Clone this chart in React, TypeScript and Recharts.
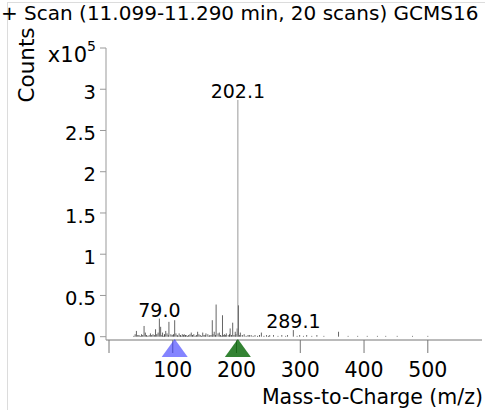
import { ComposedChart, ReferenceDot, ReferenceLine, Scatter, XAxis, YAxis } from "recharts";

const CHART_WIDTH = 485;
const CHART_HEIGHT = 410;
const FONT = "'DejaVu Sans', Verdana, sans-serif";

// main peaks: m/z and abundance (x10^5 counts)
const peakMz = [
  41, 43, 45, 51, 55, 57, 63, 65, 69, 73, 77, 79, 81, 84, 89, 91, 94, 97, 103, 105,
  110, 115, 118, 121, 127, 129, 133, 139, 141, 147, 152, 155, 158, 162, 165, 168, 171,
  173, 178, 181, 184, 187, 190, 194, 198, 201, 202.1, 203, 206, 212, 218, 223, 229,
  239, 247, 252, 258, 265, 271, 277, 280, 289.1, 295, 299, 305, 310, 318, 326, 337,
  360, 375, 390, 405, 421, 434, 452, 476, 500,
];
const peakCounts = [
  0.03, 0.07, 0.02, 0.03, 0.13, 0.05, 0.02, 0.04, 0.03, 0.09, 0.05, 0.22, 0.12, 0.05,
  0.07, 0.04, 0.18, 0.03, 0.2, 0.04, 0.04, 0.03, 0.03, 0.02, 0.03, 0.05, 0.03, 0.06,
  0.03, 0.05, 0.04, 0.03, 0.02, 0.2, 0.06, 0.39, 0.04, 0.05, 0.26, 0.03, 0.04, 0.02,
  0.1, 0.17, 0.06, 0.1, 2.87, 0.38, 0.05, 0.03, 0.02, 0.02, 0.02, 0.05, 0.02, 0.02,
  0.02, 0.01, 0.02, 0.01, 0.02, 0.08, 0.01, 0.02, 0.01, 0.02, 0.01, 0.02, 0.01, 0.06,
  0.01, 0.01, 0.01, 0.01, 0.01, 0.01, 0.01, 0.01,
];

// low-level noise peaks along the baseline
const minorMz = [
  39, 47, 49, 53, 59, 61, 67, 71, 75, 83, 86, 87, 93, 99, 101, 107, 108, 112, 113, 117,
  120, 123, 125, 131, 135, 137, 143, 145, 149, 151, 157, 160, 163, 167, 175, 177, 180,
  183, 189, 192, 196, 199, 205, 209, 215, 220, 226, 233, 236, 243, 250,
];
const minorCounts = [
  0.01, 0.02, 0.01, 0.02, 0.02, 0.01, 0.02, 0.02, 0.03, 0.02, 0.01, 0.03, 0.02, 0.02,
  0.03, 0.02, 0.01, 0.02, 0.01, 0.02, 0.02, 0.01, 0.02, 0.02, 0.01, 0.02, 0.02, 0.01,
  0.02, 0.02, 0.01, 0.02, 0.03, 0.02, 0.02, 0.01, 0.02, 0.02, 0.03, 0.02, 0.02, 0.03,
  0.02, 0.02, 0.01, 0.02, 0.01, 0.01, 0.02, 0.01, 0.01,
];

const labeledMz = [79.0, 202.1, 289.1];
const markerMz = [103, 202.1];
const markerColors = ["rgba(50, 50, 255, 0.6)", "rgba(0, 100, 0, 0.8)"];

const xTicks = [0, 100, 200, 300, 400, 500];
const yTicks = [0, 0.5, 1, 1.5, 2, 2.5, 3, 3.5];
const X_DOMAIN: [number, number] = [0, 585];
const Y_DOMAIN: [number, number] = [-0.04, 3.5];

const peaks = peakMz.map((mz, i) => ({ mz, counts: peakCounts[i] }));
const minor = minorMz.map((mz, i) => ({ mz, counts: minorCounts[i] }));

function YTick(props: any) {
  const { x, y, payload } = props;
  if (payload.value === 3.5) {
    return (
      <g fontFamily={FONT} fill="#000">
        <text x={x - 9} y={y + 14} textAnchor="end" fontSize={21}>
          x10
        </text>
        <text x={x - 9} y={y + 3} textAnchor="start" fontSize={14}>
          5
        </text>
      </g>
    );
  }
  return (
    <text x={x} y={y} dy="0.5em" textAnchor="end" fontFamily={FONT} fontSize={19.5} fill="#000">
      {payload.value}
    </text>
  );
}

function Triangle(props: any) {
  const { cx, cy, fill } = props;
  return <path d={`M${cx},${cy - 1} L${cx + 13},${cy + 17} L${cx - 13},${cy + 17} Z`} fill={fill} />;
}

export default function App() {
  return (
    <div
      style={{
        position: "absolute",
        left: 0,
        top: 0,
        width: CHART_WIDTH,
        height: CHART_HEIGHT,
        overflow: "hidden",
        background: "#fff",
        fontFamily: FONT,
      }}
    >
      <div
        style={{
          position: "absolute",
          left: 7,
          top: 2,
          width: 600,
          height: 600,
          border: "1px solid #dcdcdc",
        }}
      />
      <div
        style={{
          position: "absolute",
          left: 1,
          top: 0,
          fontSize: 20,
          whiteSpace: "nowrap",
          lineHeight: "26px",
        }}
      >
        + Scan (11.099-11.290 min, 20 scans) GCMS16
      </div>
      <div
        style={{
          position: "absolute",
          left: 26,
          top: 65,
          fontSize: 21.5,
          whiteSpace: "nowrap",
          transform: "translate(-50%, -50%) rotate(-90deg)",
        }}
      >
        Counts
      </div>
      <div
        style={{
          position: "absolute",
          right: 2,
          top: 385,
          fontSize: 20.5,
          whiteSpace: "nowrap",
          lineHeight: "25px",
        }}
      >
        Mass-to-Charge (m/z)
      </div>
      <div style={{ position: "absolute", left: 0, top: 0 }}>
        <ComposedChart
          width={CHART_WIDTH}
          height={CHART_HEIGHT}
          margin={{ top: 48, right: 3, bottom: 0, left: 0 }}
        >
          <XAxis
            dataKey="mz"
            type="number"
            domain={X_DOMAIN}
            ticks={xTicks}
            allowDataOverflow
            height={70}
            padding={{ left: 3 }}
            stroke="#777"
            tickSize={13}
            tickMargin={9}
            tick={{ fontFamily: FONT, fontSize: 20.5, fill: "#000" }}
            tickFormatter={(v: number) => (v === 0 ? "" : String(v))}
          />
          <YAxis
            dataKey="counts"
            type="number"
            domain={Y_DOMAIN}
            ticks={yTicks}
            allowDataOverflow
            width={106}
            stroke="#999"
            tickSize={6}
            tickMargin={4}
            tick={<YTick />}
          />
          <Scatter data={peaks} shape={() => <g />} isAnimationActive={false} />
          {minor.map((p) => (
            <ReferenceLine
              key={`n-${p.mz}`}
              segment={[
                { x: p.mz, y: 0 },
                { x: p.mz, y: p.counts },
              ]}
              stroke="#444"
              strokeWidth={1}
            />
          ))}
          {peaks.map((p) => (
            <ReferenceLine
              key={p.mz}
              segment={[
                { x: p.mz, y: 0 },
                { x: p.mz, y: p.counts },
              ]}
              stroke={p.counts > 1 ? "#999" : "#666"}
              strokeWidth={1}
            />
          ))}
          {labeledMz.map((mz) => (
            <ReferenceDot
              key={`lbl-${mz}`}
              x={mz}
              y={peakCounts[peakMz.indexOf(mz)]}
              r={0}
              stroke="none"
              label={{
                value: mz.toFixed(1),
                position: "top",
                offset: 2,
                fontFamily: FONT,
                fontSize: 19,
                fill: "#000",
              }}
            />
          ))}
          {markerMz.map((mz, i) => (
            <ReferenceDot
              key={`mk-${mz}`}
              x={mz}
              y={Y_DOMAIN[0]}
              r={0}
              ifOverflow="visible"
              fill={markerColors[i]}
              shape={<Triangle />}
            />
          ))}
        </ComposedChart>
      </div>
    </div>
  );
}
